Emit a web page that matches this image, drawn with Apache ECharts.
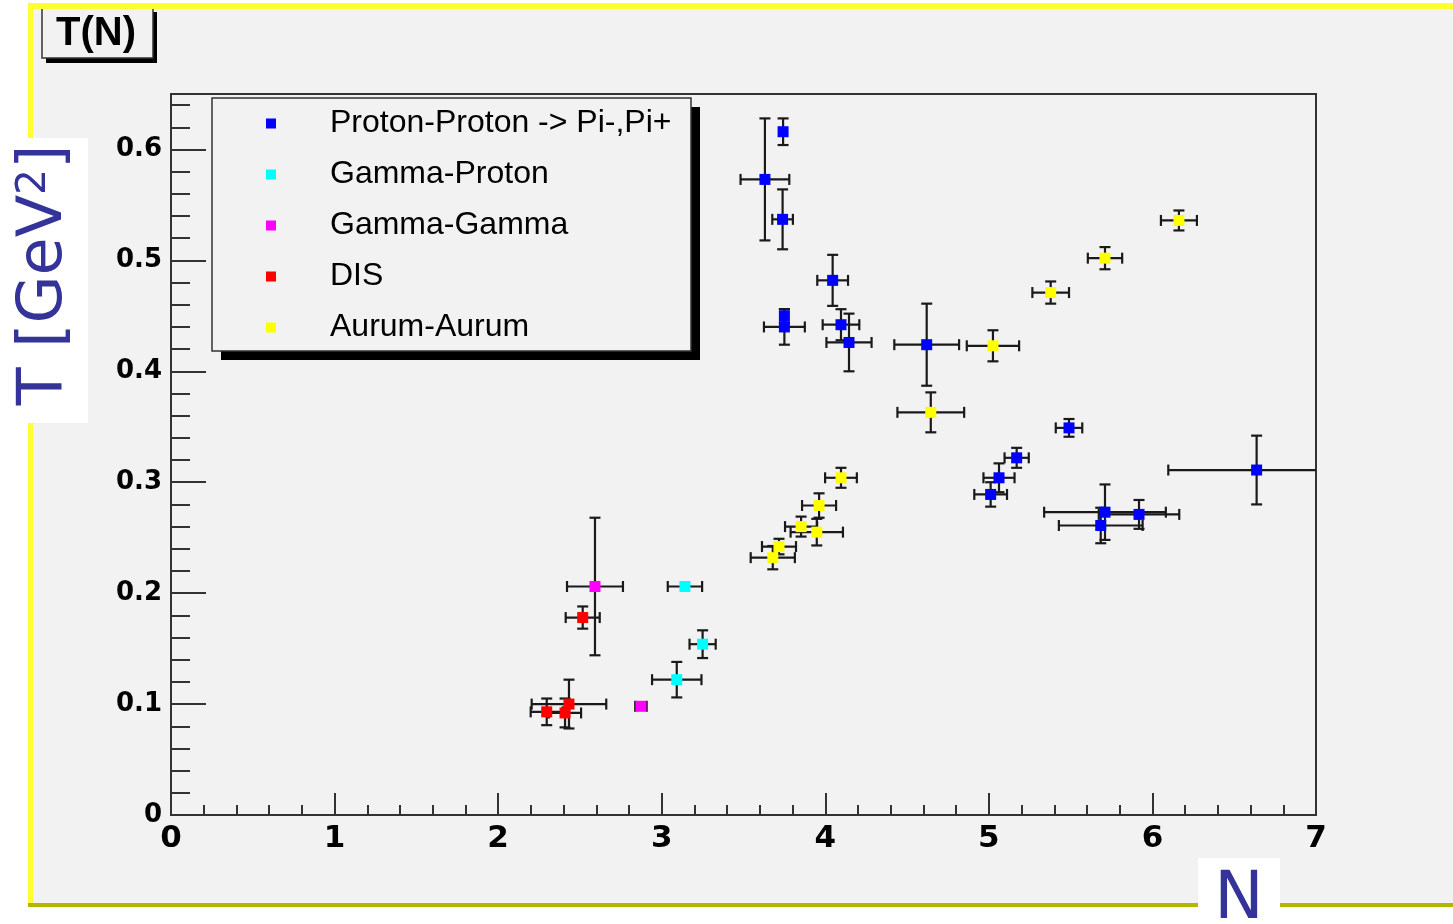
<!DOCTYPE html>
<html>
<head>
<meta charset="utf-8">
<title>T(N)</title>
<script src="https://cdn.jsdelivr.net/npm/echarts@6/dist/echarts.min.js"></script>
<style>
  html, body { margin: 0; padding: 0; background: #ffffff; }
  #chart { width: 1453px; height: 924px; }
</style>
</head>
<body>
<div id="chart"></div>
<script>
// Proton-Proton -> Pi-,Pi+
const ppN    = [3.742, 3.631, 3.739, 4.045, 3.75, 3.75, 4.096, 4.145, 4.62, 5.49, 5.17, 5.062, 5.011, 5.71, 5.918, 5.684, 6.637];
const ppT    = [0.616, 0.573, 0.537, 0.482, 0.450, 0.440, 0.442, 0.426, 0.424, 0.349, 0.322, 0.304, 0.289, 0.273, 0.271, 0.261, 0.311];
const ppNErr = [0, 0.149, 0.063, 0.094, 0, 0.125, 0.112, 0.138, 0.198, 0.081, 0.074, 0.095, 0.100, 0.372, 0.246, 0.256, 0.540];
const ppTErr = [0.012, 0.055, 0.027, 0.023, 0.006, 0.016, 0.014, 0.026, 0.037, 0.008, 0.009, 0.013, 0.011, 0.025, 0.013, 0.016, 0.031];

// Gamma-Proton
const gpN    = [3.142, 3.250, 3.092];
const gpT    = [0.206, 0.154, 0.122];
const gpNErr = [0.105, 0.080, 0.151];
const gpTErr = [0, 0.0125, 0.016];

// Gamma-Gamma
const ggN    = [2.592, 2.873];
const ggT    = [0.206, 0.098];
const ggNErr = [0.171, 0.035];
const ggTErr = [0.062, 0];

// DIS
const disN    = [2.517, 2.433, 2.297, 2.409];
const disT    = [0.178, 0.100, 0.093, 0.092];
const disNErr = [0.104, 0.228, 0.098, 0.098];
const disTErr = [0.010, 0.022, 0.012, 0.013];

// Aurum-Aurum
const auN    = [6.162, 5.710, 5.378, 5.025, 4.645, 4.096, 3.962, 3.852, 3.948, 3.717, 3.679];
const auT    = [0.536, 0.502, 0.471, 0.423, 0.363, 0.304, 0.279, 0.260, 0.255, 0.242, 0.232];
const auNErr = [0.110, 0.105, 0.112, 0.160, 0.204, 0.097, 0.104, 0.098, 0.160, 0.104, 0.135];
const auTErr = [0.009, 0.010, 0.010, 0.014, 0.018, 0.009, 0.011, 0.009, 0.012, 0.007, 0.0105];

const seriesNames = ['Proton-Proton -> Pi-,Pi+', 'Gamma-Proton', 'Gamma-Gamma', 'DIS', 'Aurum-Aurum'];
const seriesColors = ['#0000ff', '#00ffff', '#ff00ff', '#ff0000', '#ffff00'];

// Axis ranges
const nMin = 0, nMax = 7, nStep = 1;
const tMin = 0, tMax = 0.65, tStep = 0.1, tMinorStep = 0.02;

const groups = [
  [ppN, ppT, ppNErr, ppTErr],
  [gpN, gpT, gpNErr, gpTErr],
  [ggN, ggT, ggNErr, ggTErr],
  [disN, disT, disNErr, disTErr],
  [auN, auT, auNErr, auTErr]
];

// Error bars with end caps, one group per point
function renderErrorBars(params, api) {
  const n = api.value(0), t = api.value(1), dn = api.value(2), dt = api.value(3);
  const cap = 5.5;
  const style = { stroke: '#1a1a1a', lineWidth: 2.2, fill: null };
  const kids = [];
  const seg = (x1, y1, x2, y2) => kids.push({ type: 'line', shape: { x1, y1, x2, y2 }, style });
  if (dn > 0) {
    const a = api.coord([n - dn, t]), b = api.coord([n + dn, t]);
    seg(a[0], a[1], b[0], b[1]);
    seg(a[0], a[1] - cap, a[0], a[1] + cap);
    seg(b[0], b[1] - cap, b[0], b[1] + cap);
  }
  if (dt > 0) {
    const a = api.coord([n, t + dt]), b = api.coord([n, t - dt]);
    seg(a[0], a[1], b[0], b[1]);
    seg(a[0] - cap, a[1], a[0] + cap, a[1]);
    seg(b[0] - cap, b[1], b[0] + cap, b[1]);
  }
  return { type: 'group', children: kids };
}

const series = [];
groups.forEach((g) => {
  const [N, T, dN, dT] = g;
  series.push({
    type: 'custom',
    coordinateSystem: 'cartesian2d',
    xAxisIndex: 0, yAxisIndex: 0,
    clip: true,
    silent: true,
    z: 2,
    encode: { x: 0, y: 1 },
    renderItem: renderErrorBars,
    data: N.map((n, k) => [n, T[k], dN[k], dT[k]])
  });
});
groups.forEach((g, i) => {
  const [N, T] = g;
  series.push({
    type: 'scatter',
    name: seriesNames[i],
    xAxisIndex: 0, yAxisIndex: 0,
    symbol: 'rect',
    symbolSize: 11,
    silent: true,
    z: 3,
    itemStyle: { color: seriesColors[i], opacity: 1 },
    data: N.map((n, k) => [n, T[k]])
  });
});

const tickColor = '#333333';
const chart = echarts.init(document.getElementById('chart'), null, { renderer: 'canvas' });
chart.setOption({
  animation: false,
  backgroundColor: '#ffffff',
  grid: {
    left: 171, top: 94, width: 1145, height: 721,
    containLabel: false,
    outerBoundsMode: 'none',
    show: true,
    backgroundColor: 'transparent',
    borderColor: '#333333',
    borderWidth: 2
  },
  xAxis: {
    type: 'value',
    min: nMin, max: nMax, interval: nStep,
    axisLine: { show: false },
    axisTick: { show: true, inside: true, length: 22, lineStyle: { color: tickColor, width: 2 } },
    minorTick: { show: true, splitNumber: 5, length: 10, lineStyle: { color: tickColor, width: 2 } },
    splitLine: { show: false },
    minorSplitLine: { show: false },
    axisLabel: {
      margin: 8,
      showMinLabel: true, showMaxLabel: true,
      fontFamily: 'DejaVu Sans', fontWeight: 'bold', fontSize: 31, color: '#000000'
    }
  },
  yAxis: [
    {
      type: 'value',
      position: 'left',
      min: tMin, max: tMax, interval: tStep,
      axisLine: { show: false },
      axisTick: { show: true, inside: true, length: 35, lineStyle: { color: tickColor, width: 2 } },
      splitLine: { show: false },
      axisLabel: {
        margin: 9,
        showMinLabel: true, showMaxLabel: false,
        fontFamily: 'DejaVu Sans', fontWeight: 'bold', fontSize: 26, color: '#000000',
        formatter: v => (v === 0 ? '0' : v.toFixed(1))
      }
    },
    {
      type: 'value',
      position: 'left',
      offset: 0,
      min: tMin, max: tMax, interval: tMinorStep,
      axisLine: { show: false },
      axisTick: { show: true, inside: true, length: 19, lineStyle: { color: tickColor, width: 2 } },
      splitLine: { show: false },
      axisLabel: { show: false }
    }
  ],
  legend: {
    orient: 'vertical',
    left: 266, top: 98,
    padding: 0,
    itemGap: 0,
    itemWidth: 10, itemHeight: 10,
    icon: 'rect',
    selectedMode: false,
    data: seriesNames,
    textStyle: {
      fontFamily: 'Liberation Sans', fontSize: 32, color: '#000000',
      lineHeight: 51, padding: [0, 0, 0, 49]
    }
  },
  graphic: [
    // canvas backdrop and frame
    { type: 'rect', z: -10, shape: { x: 28, y: 3, width: 1425, height: 904 }, style: { fill: '#f2f2f2' } },
    { type: 'rect', z: 3, shape: { x: 28, y: 3, width: 1425, height: 6 }, style: { fill: '#ffff33' } },
    { type: 'rect', z: 3, shape: { x: 28, y: 3, width: 5, height: 902 }, style: { fill: '#ffff33' } },
    { type: 'rect', z: 3, shape: { x: 28, y: 903, width: 1425, height: 4 }, style: { fill: '#b5b500' } },
    // title box
    { type: 'rect', z: 1, shape: { x: 46, y: 12, width: 111, height: 51 }, style: { fill: '#000000' } },
    { type: 'rect', z: 1, shape: { x: 42, y: 8, width: 111, height: 50 }, style: { fill: '#f2f2f2', stroke: '#333333', lineWidth: 1.5 } },
    {
      type: 'text', z: 2, x: 96, y: 34,
      style: { text: 'T(N)', fontFamily: 'Liberation Sans', fontWeight: 'bold', fontSize: 40, fill: '#000000', align: 'center', verticalAlign: 'middle' }
    },
    // legend panel
    { type: 'rect', z: 1, shape: { x: 221, y: 107, width: 479, height: 253 }, style: { fill: '#000000' } },
    { type: 'rect', z: 1, shape: { x: 212, y: 98, width: 479, height: 253 }, style: { fill: '#f2f2f2', stroke: '#333333', lineWidth: 1.5 } },
    // y-axis title
    { type: 'rect', z: 5, shape: { x: 0, y: 138, width: 88, height: 285 }, style: { fill: '#ffffff' } },
    {
      type: 'text', z: 6, x: 45, y: 275, rotation: Math.PI / 2,
      style: {
        text: '{a|T [GeV}{s|2}{a|]}',
        align: 'center', verticalAlign: 'middle',
        rich: {
          a: { fontFamily: 'DejaVu Sans', fontSize: 62, lineHeight: 62, fill: '#333399' },
          s: { fontFamily: 'DejaVu Sans', fontSize: 41, lineHeight: 41, fill: '#333399', verticalAlign: 'top' }
        }
      }
    },
    // x-axis title
    { type: 'rect', z: 5, shape: { x: 1198, y: 858, width: 82, height: 66 }, style: { fill: '#ffffff' } },
    {
      type: 'text', z: 6, x: 1239, y: 901,
      style: { text: 'N', fontFamily: 'DejaVu Sans', fontSize: 66, fill: '#333399', align: 'center', verticalAlign: 'middle' }
    }
  ],
  series: series
});
</script>
</body>
</html>
